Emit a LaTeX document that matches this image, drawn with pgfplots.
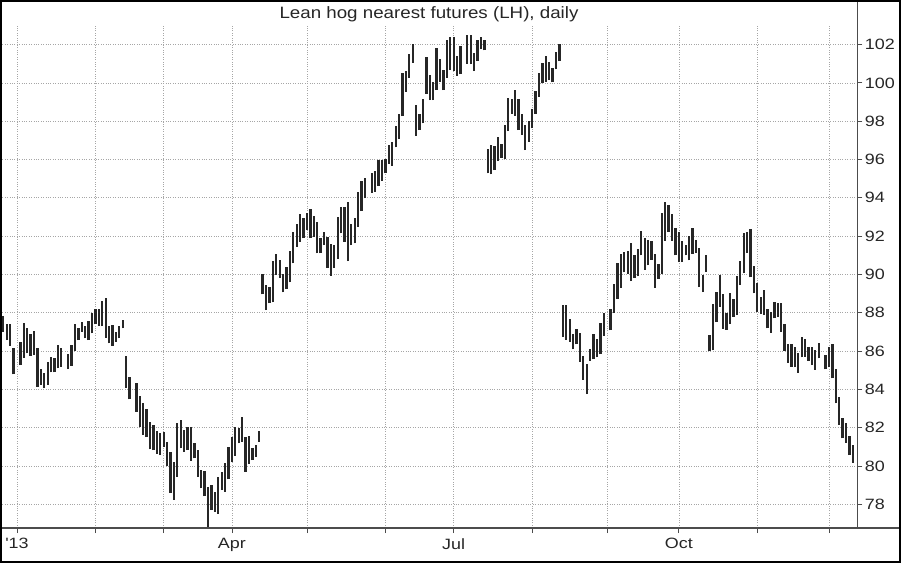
\documentclass[border=0pt]{standalone}
\usepackage{fontspec}
\setmainfont{Liberation Sans}
\usepackage{graphicx}
\usepackage{pgfplots}
\usepackage{pgfplotstable}
\pgfplotsset{compat=1.18}

\pgfplotstableread{
d l h
-4 87.01 87.84
-3 86.57 87.39
-2 86.28 87.39
-1 84.78 86.14
1 85.27 86.45
2 85.65 87.48
3 85.88 87.22
4 85.76 86.89
5 85.79 87.04
6 84.14 86.17
7 84.23 85.06
8 84.05 84.87
9 84.23 85.41
10 84.89 85.69
11 84.89 85.65
12 85.10 86.31
13 85.18 86.17
15 85.06 85.83
16 85.23 86.31
17 86.02 87.41
18 86.57 87.18
19 87.01 87.53
20 86.66 87.30
21 86.57 87.57
22 86.92 87.98
23 87.39 88.19
24 87.30 88.19
25 87.30 88.63
26 86.70 88.75
27 86.40 87.30
28 86.28 87.36
29 86.49 87.01
30 86.66 87.30
31 87.18 87.62
32 84.05 85.74
33 83.48 84.63
35 82.83 84.35
36 82.02 83.65
37 81.62 83.30
38 81.50 82.96
39 80.87 82.31
40 80.83 82.14
41 80.63 81.84
42 80.57 81.70
43 80.97 81.79
44 80.00 81.27
45 78.61 80.75
46 78.23 80.23
47 79.44 82.23
48 80.92 82.40
49 80.75 81.88
50 80.83 82.02
51 80.28 82.02
52 80.40 81.18
53 79.44 80.83
54 78.83 79.79
55 78.43 79.76
56 76.80 78.92
57 77.70 79.01
58 77.62 78.66
59 77.50 79.41
60 78.75 79.70
61 78.66 80.14
62 79.30 81.01
63 80.23 81.53
64 80.52 82.02
65 81.18 81.97
66 81.27 82.57
67 79.70 81.53
68 80.10 81.57
69 80.31 80.92
70 80.49 81.10
71 81.27 81.84
72 88.96 90.00
73 88.14 89.44
74 88.49 89.36
75 88.54 90.70
76 89.97 91.04
77 89.83 90.75
78 89.06 90.00
79 89.23 90.40
80 89.58 91.22
81 90.57 92.19
82 91.44 92.61
83 91.70 93.13
84 91.88 92.92
85 92.31 93.23
86 91.88 93.44
87 91.97 93.06
88 91.10 92.75
89 91.10 91.91
90 91.53 92.19
91 90.35 91.97
92 89.93 91.57
93 90.35 91.53
94 90.83 93.01
95 92.14 93.53
96 91.70 93.53
97 90.70 93.79
98 91.53 92.61
99 91.62 92.92
100 92.49 94.30
101 93.30 94.90
102 93.97 95.04
104 94.26 95.32
105 94.31 95.41
106 94.63 95.97
107 94.89 95.97
108 95.27 96.02
109 95.79 96.75
110 95.67 96.89
111 96.63 97.76
112 97.06 98.40
113 98.26 100.52
114 99.53 100.61
115 100.26 101.53
116 101.04 102.02
117 97.23 98.83
118 97.53 98.40
119 97.88 99.18
120 99.44 101.36
121 99.10 100.40
122 99.10 100.05
123 99.62 101.83
124 100.05 101.23
125 99.62 100.66
126 100.26 102.23
127 100.66 102.40
128 100.61 102.40
129 100.37 101.41
130 100.45 101.93
132 101.01 102.49
133 100.96 102.49
134 100.61 101.58
135 101.13 102.23
136 101.76 102.40
137 101.70 102.23
138 95.27 96.54
139 95.22 96.75
140 95.44 96.71
141 95.91 97.17
142 96.09 96.82
143 96.05 97.79
144 97.48 99.23
145 98.40 99.18
146 98.28 99.65
147 97.53 99.18
148 97.30 98.40
149 96.49 97.79
150 96.92 98.00
151 97.62 98.66
152 98.40 99.57
153 99.27 100.49
154 99.97 101.06
155 100.05 101.41
156 100.14 101.10
157 100.02 100.78
158 100.71 101.62
159 101.13 102.05
160 86.74 88.39
161 86.60 88.39
162 86.48 87.68
163 86.08 86.88
164 86.35 87.15
165 85.44 86.93
166 84.50 85.74
167 83.75 85.32
168 85.48 86.13
169 85.57 86.87
170 85.67 86.65
171 85.83 87.44
172 86.80 87.97
174 87.08 88.21
175 87.98 89.50
176 88.73 90.58
177 89.30 91.06
178 90.10 91.17
179 90.03 91.20
180 89.65 91.63
181 89.83 90.99
182 89.90 91.34
183 90.99 92.26
184 90.24 91.91
185 90.47 91.81
186 90.77 91.77
187 89.30 91.04
188 89.77 90.52
189 90.03 93.20
190 91.77 93.77
191 92.21 93.60
192 91.77 93.13
193 90.99 92.43
194 90.64 92.21
195 90.64 91.77
196 90.99 91.51
197 90.73 92.03
198 91.08 92.43
199 91.11 91.81
200 89.34 91.39
201 89.08 89.95
202 90.12 90.99
203 86.00 86.82
204 86.03 88.47
205 87.51 89.08
206 88.30 89.95
207 87.17 88.99
208 87.11 87.98
209 87.40 89.05
210 87.80 88.74
211 87.88 89.91
212 89.44 90.71
213 90.05 92.14
214 91.13 92.23
215 89.84 92.35
216 89.01 90.43
217 88.05 89.57
218 87.93 88.80
219 87.88 89.18
220 87.18 88.17
221 86.96 88.05
222 87.70 88.57
223 87.79 88.49
224 87.01 88.49
225 86.02 87.41
226 85.39 86.37
227 85.18 86.37
228 85.15 86.19
229 84.87 85.88
230 85.67 86.71
231 85.70 86.61
232 85.50 86.23
233 85.27 86.23
234 85.01 86.05
235 85.62 86.43
237 85.04 85.79
238 85.15 86.23
239 84.57 86.37
240 83.27 85.04
241 82.14 83.58
242 81.44 82.49
243 81.22 82.23
244 80.57 81.57
245 80.17 81.10
}\hogdata

\begin{document}
\begin{tikzpicture}[x=1bp,y=1bp]
\useasboundingbox (0bp,0bp) rectangle (901bp,563bp);
\fill[white] (0bp,0bp) rectangle (901bp,563bp);
\begin{axis}[
  at={(0bp,35bp)}, anchor=south west,
  scale only axis, width=857.3bp, height=502bp,
  xmin=-4.98, xmax=246.3, ymin=76.76, ymax=102.97,
  axis line style={draw=none},
  xtick pos=bottom, ytick pos=right, yticklabel pos=right,
  xtick={0,23,43,63,85,108,128,151,173,194,217,238},
  xticklabels={\scalebox{1.2}[1]{\textquotesingle13},,,\scalebox{1.2}[1]{Apr},,,\scalebox{1.2}[1]{Jul},,,\scalebox{1.2}[1]{Oct},,},
  ytick={78,80,...,102},
  yticklabel={\scalebox{1.2}[1]{\pgfmathprintnumber{\tick}}},
  tick align=outside,
  major tick length=5bp,
  tick style={gray!60!black, line width=0.8bp},
  grid=major,
  major grid style={gray!70, line width=0.7bp, dash pattern=on 0.8bp off 1.6bp},
  tick label style={font=\fontsize{15}{15}\selectfont, text=black!85},
  /pgf/number format/assume math mode=true,
  yticklabel style={anchor=west, xshift=-1bp},
  xticklabel style={yshift=-2bp},
  clip=false,
]
\addplot[draw=none, mark=none,
  error bars/.cd, y dir=plus, y explicit, error mark=none,
  error bar style={draw=black!85, line width=2.3bp, solid}]
  table[x=d, y=l, y error expr=\thisrow{h}-\thisrow{l}] {\hogdata};
\draw[gray!60!black, line width=1.3bp] (rel axis cs:0,0) -- (rel axis cs:1.0513,0);
\draw[gray!60!black, line width=1.3bp] (rel axis cs:1,0) -- (rel axis cs:1,1.052);
\end{axis}
\node[text=black!85] at (429bp,549bp) {\fontsize{16.5}{16.5}\selectfont\scalebox{1.14}[1]{Lean hog nearest futures (LH), daily}};
\draw[black, line width=2bp] (1bp,1bp) rectangle (900bp,562bp);
\end{tikzpicture}
\end{document}
